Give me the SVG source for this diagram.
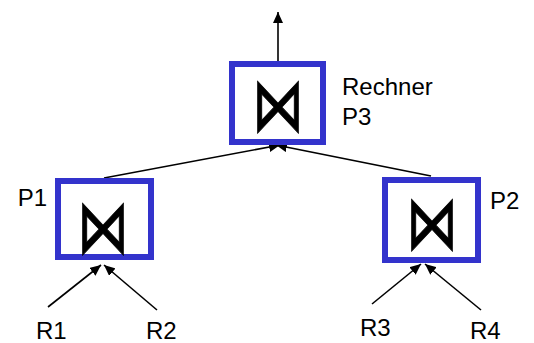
<svg xmlns="http://www.w3.org/2000/svg" width="534" height="343" viewBox="0 0 534 343">
<style>
.box{fill:#fff;stroke:#3333cc;stroke-width:6}
.lbl{font-family:"Liberation Sans",Arial,sans-serif;font-size:24px;fill:#000}
.sym{font-family:"DejaVu Sans",sans-serif;font-size:40px;fill:#000;stroke:#000;stroke-width:0.5;text-anchor:middle}
.con{stroke:#000;stroke-width:1.6;fill:none;marker-end:url(#ah)}
</style>
<defs>
<marker id="ah" markerUnits="userSpaceOnUse" markerWidth="12" markerHeight="10" refX="11" refY="5" orient="auto">
<path d="M0,0 L11,5 L0,10 z" fill="#000"/>
</marker>
</defs>
<g id="connectors">
<line class="con" x1="278" y1="61" x2="278" y2="12"/>
<line class="con" x1="104" y1="178" x2="280" y2="145"/>
<line class="con" x1="431" y1="176" x2="276" y2="145"/>
<line class="con" x1="48" y1="307" x2="101" y2="265"/>
<line class="con" x1="157" y1="310" x2="104" y2="265"/>
<line class="con" x1="372" y1="304" x2="421" y2="264"/>
<line class="con" x1="481" y1="310" x2="425" y2="264"/>
</g>
<g id="p3">
<rect class="box" x="232" y="64" width="91" height="78"/>
<text class="sym" transform="translate(278,102) scale(1.3,1.9)" x="0" y="15">⋈</text>
<text class="lbl" x="342" y="95">Rechner</text>
<text class="lbl" x="342" y="125">P3</text>
</g>
<g id="p1">
<rect class="box" x="58" y="181" width="93" height="76"/>
<text class="sym" transform="translate(103,224) scale(1.3,1.9)" x="0" y="15">⋈</text>
<text class="lbl" x="47" y="206" text-anchor="end">P1</text>
</g>
<g id="p2">
<rect class="box" x="385" y="180" width="93" height="80"/>
<text class="sym" transform="translate(432,220) scale(1.3,1.9)" x="0" y="15">⋈</text>
<text class="lbl" x="490" y="209">P2</text>
</g>
<g id="r1"><text class="lbl" x="36" y="339">R1</text></g>
<g id="r2"><text class="lbl" x="146" y="339">R2</text></g>
<g id="r3"><text class="lbl" x="360" y="336">R3</text></g>
<g id="r4"><text class="lbl" x="470" y="339">R4</text></g>
</svg>
